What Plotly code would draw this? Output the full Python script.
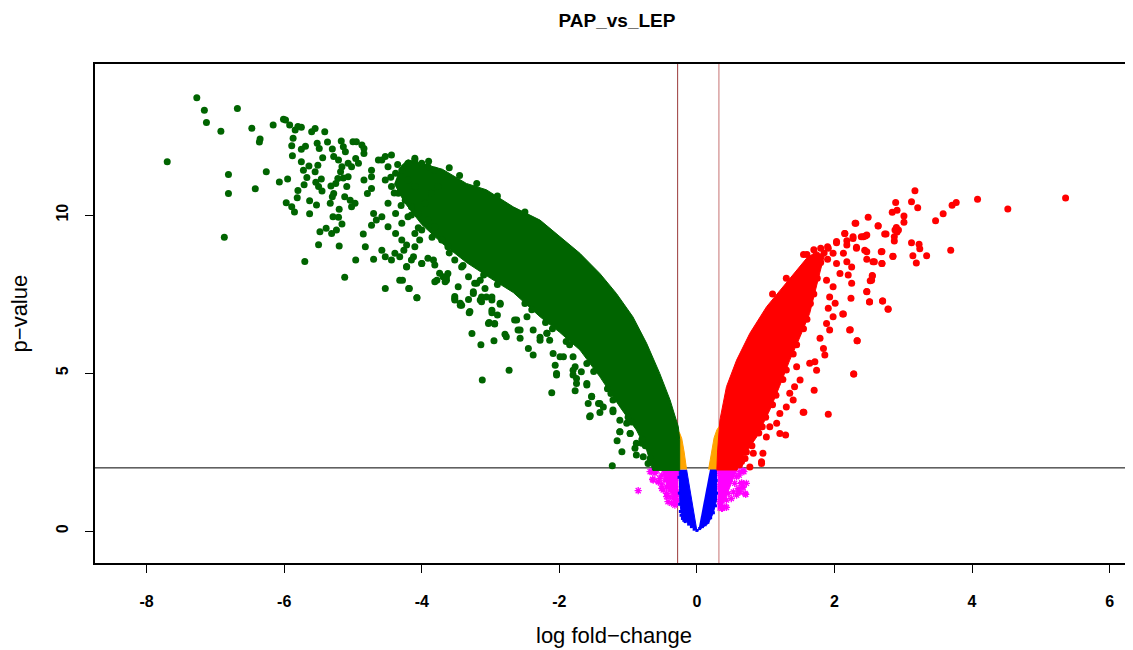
import plotly.graph_objects as go

# ---------------- data (log fold-change, p-value) ----------------
fc_low = -0.28
fc_high = 0.32
p_cut = 2.0

x_ticks = [-8, -6, -4, -2, 0, 2, 4, 6]
y_ticks = [0, 5, 10]

# dense core of down-regulated genes (outline of the solid cloud)
green_band_x = [-4.30, -4.20, -3.70, -3.35, -3.06, -2.67, -2.28, -1.99, -1.70, -1.41, -1.17, -0.93,
                -0.73, -0.54, -0.39, -0.27, -0.25, -0.25,
                -0.64, -0.73, -0.88, -1.12, -1.41, -1.70, -2.00, -2.28, -2.67, -3.00, -3.35,
                -3.70, -4.00, -4.25, -4.40]
green_band_y = [11.55, 11.75, 11.45, 11.00, 10.80, 10.26, 9.84, 9.31, 8.79, 8.15, 7.52, 6.78,
                5.94, 4.99, 4.15, 3.30, 2.90, 1.92,
                1.92, 2.56, 3.20, 3.93, 4.88, 5.73, 6.30, 6.78, 7.55, 8.00, 8.50,
                9.10, 9.70, 10.40, 11.00]

green_x = [-7.27, -7.16, -7.13, -6.68, -6.92, -7.70, -6.81, -6.81, -6.87, -6.47, -6.35, -6.36,
           -6.26, -6.42, -6.16, -6.07, -5.95, -6.01, -5.98, -5.92, -5.84, -5.80, -5.75, -5.87,
           -5.89, -5.75, -5.69, -5.88, -5.75, -5.72, -5.67, -5.71, -5.80, -5.81, -5.97, -5.89,
           -5.85, -5.63, -5.53, -5.63, -5.70, -5.50, -5.60, -5.55, -5.41, -5.52, -5.49, -5.37,
           -5.44, -5.30, -5.17, -5.14, -5.11, -5.28, -5.64, -5.51, -5.55, -5.46, -5.54, -5.50,
           -5.45, -5.32, -5.28, -5.30, -5.33, -5.21, -5.16, -5.18, -5.22, -5.25, -5.07, -5.02,
           -5.14, -5.07, -5.00, -4.95, -4.87, -4.84, -4.84, -4.96, -4.92, -5.20, -5.29, -5.21,
           -5.16, -5.24, -5.39, -5.48, -5.31, -5.09, -5.12, -5.04, -4.97, -5.02, -5.20, -4.96,
           -5.12, -4.85, -4.82, -4.73, -4.66, -4.70, -4.79, -4.73, -4.84, -4.73, -4.73, -4.63,
           -4.53, -4.44, -4.70, -4.58, -4.53, -4.44, -4.39, -4.32, -4.53, -4.19, -4.07, -4.28,
           -4.22, -4.15, -4.22, -4.10, -4.03, -4.00, -3.91, -3.81, -3.74, -3.64, -3.81, -3.52,
           -3.42, -3.32, -3.25, -3.13, -2.98,
           -4.58, -4.49, -4.38, -4.53, -4.44, -4.29, -4.20, -4.10, -4.00, -3.91, -3.81, -4.20,
           -4.10, -4.34, -4.24, -4.15, -4.49, -4.38, -4.29, -4.20, -4.05, -3.95, -3.86, -3.76,
           -3.91, -3.81, -4.00, -4.10, -4.49, -4.58, -4.38, -4.29, -3.71, -3.62, -3.52, -3.42,
           -3.32, -3.23, -3.62, -3.47,
           -3.66, -3.64, -3.52, -3.44, -3.31, -3.27, -3.14, -3.12, -2.95, -3.02, -2.94, -2.98,
           -2.90, -2.79, -2.73, -3.13, -3.08, -2.98, -2.86, -3.25, -3.20, -3.15, -2.65, -2.60,
           -2.57, -2.45, -2.38, -2.28, -2.18, -2.14, -2.06, -2.04, -2.11, -1.94, -1.80, -1.77,
           -1.68, -1.80, -1.75, -1.77, -1.60, -1.53, -1.58, -1.43, -1.36, -1.41, -1.55, -1.22,
           -1.12, -1.22, -1.12, -1.16, -1.09, -0.90, -0.88, -0.80, -1.23, -0.97, -1.02, -0.78,
           -0.71,
           -4.32, -4.18, -4.07, -4.26, -4.22, -4.12, -4.00, -3.83, -3.78, -3.69, -3.52, -3.44,
           -3.30, -3.15, -3.06, -2.98, -2.86, -3.03, -2.94, -2.77, -2.62, -2.47, -2.57, -2.38,
           -2.28, -2.18, -2.09, -1.99, -2.04, -1.80, -1.75, -1.60, -1.53, -1.41, -1.56, -1.22,
           -1.12, -0.97, -0.88,
           -2.50, -2.40, -2.20, -2.10, -1.90, -1.85, -1.60, -1.50, -1.30, -1.25, -1.00, -0.95,
           -0.80, -0.75, -0.68, -2.90, -3.10, -3.40, -3.60, -3.85, -4.05, -4.15, -4.30, -4.40,
           -4.45, -4.35, -4.10, -3.90, -3.60, -3.45, -3.20, -2.90, -2.50]
green_y = [13.71, 13.32, 12.93, 13.37, 12.65, 11.69, 11.28, 10.68, 9.30, 12.75, 12.41, 12.31,
           11.37, 10.83, 12.85, 11.05, 11.14, 13.03, 13.01, 12.85, 12.69, 12.80, 12.78, 12.43,
           12.19, 12.08, 12.18, 11.88, 11.69, 11.42, 11.19, 10.96, 10.78, 10.55, 10.39, 10.26,
           10.10, 10.45, 10.32, 10.04, 8.53, 9.06, 12.64, 12.74, 12.64, 12.27, 12.11, 12.31,
           11.81, 12.09, 12.34, 12.16, 12.00, 11.85, 11.55, 11.58, 11.37, 11.14, 11.04, 10.90,
           10.76, 10.92, 10.68, 10.58, 10.37, 11.74, 11.53, 11.37, 11.16, 11.00, 11.64, 11.53,
           11.17, 11.21, 12.32, 12.32, 12.22, 12.11, 11.95, 11.79, 11.64, 10.18, 9.95, 9.93,
           9.72, 9.53, 9.58, 9.47, 9.42, 10.90, 10.58, 10.47, 10.37, 10.26, 9.02, 8.58,
           8.03, 9.40, 9.00, 9.68, 9.84, 10.05, 10.68, 10.84, 11.11, 11.21, 11.42, 11.74,
           11.85, 11.90, 8.60, 8.89, 8.68, 8.58, 8.79, 8.68, 7.68, 7.68, 7.38, 7.94,
           8.37, 8.58, 9.05, 9.00, 9.21, 8.47, 8.63, 8.42, 8.16, 7.94, 7.89, 7.36,
           7.15, 7.33, 7.52, 7.26, 7.31,
           11.74, 11.53, 11.32, 11.11, 10.90, 11.42, 11.64, 11.74, 11.64, 11.53, 11.42, 11.11,
           10.90, 10.69, 10.47, 10.26, 10.37, 10.05, 9.74, 9.95, 10.05, 10.37, 10.69, 10.90,
           9.84, 9.63, 9.53, 9.42, 9.63, 9.95, 9.42, 9.21, 9.21, 9.00, 8.58, 8.36,
           8.05, 7.84, 8.15, 7.73,
           7.89, 8.05, 7.31, 7.15, 6.91, 6.25, 5.90, 4.78, 6.02, 6.60, 6.55, 6.91,
           6.84, 6.23, 5.09, 7.41, 7.68, 7.41, 7.18, 7.57, 7.84, 7.94, 6.68, 6.36,
           6.10, 5.78, 5.57, 6.13, 6.26, 6.04, 5.25, 4.94, 4.38, 5.52, 5.52, 5.20,
           5.04, 4.94, 4.83, 4.44, 4.62, 4.27, 4.04, 4.04, 3.93, 3.75, 3.65, 3.78,
           3.51, 4.15, 3.14, 2.86, 2.51, 2.62, 2.41, 2.78, 2.07, 3.09, 3.41, 2.35,
           2.14,
           7.94, 7.68, 7.38, 8.89, 8.36, 8.68, 8.47, 8.58, 7.94, 8.05, 7.42, 7.21,
           6.95, 7.31, 7.41, 6.99, 7.21, 6.57, 6.57, 6.15, 6.68, 6.78, 6.36, 6.36,
           6.04, 6.26, 5.62, 5.52, 4.99, 5.09, 4.67, 4.67, 4.25, 4.04, 3.62, 3.83,
           3.14, 3.09, 2.78,
           7.20, 7.00, 6.60, 6.40, 6.00, 5.90, 5.30, 5.05, 4.50, 4.35, 3.60, 3.45,
           2.90, 2.70, 2.30, 7.80, 8.10, 8.40, 8.80, 9.30, 9.60, 10.00, 10.30, 10.70,
           11.20, 11.60, 11.80, 11.70, 11.50, 11.25, 11.00, 10.60, 10.10]

# dense core of up-regulated genes
red_band_x = [0.29, 0.30, 0.334, 0.43, 0.577, 0.77, 1.013, 1.254, 1.45, 1.594, 1.74, 1.85,
              1.79, 1.74, 1.64, 1.50, 1.35, 1.20, 1.06, 0.87, 0.67, 0.58]
red_band_y = [1.92, 2.50, 3.51, 4.57, 5.41, 6.26, 7.10, 7.73, 8.26, 8.63, 8.85, 8.70,
              8.20, 7.73, 6.89, 6.15, 5.41, 4.57, 3.83, 2.98, 2.35, 1.92]

red_x = [2.30, 2.635, 2.88, 2.73, 2.93, 2.15, 2.27, 2.42, 2.47, 2.03, 2.18, 2.32, 2.13, 2.47,
         2.56, 2.68, 2.69, 2.85, 1.91, 1.98, 2.03, 2.18, 2.25, 2.08, 2.20, 2.25, 1.885, 1.98,
         1.93, 2.01, 1.91, 2.13, 1.98, 1.885, 1.93, 2.47, 2.51, 2.54, 2.55, 2.70, 2.78, 2.22,
         2.33, 1.79, 1.84, 1.86, 1.715, 1.64, 1.74, 2.28, 1.705, 1.545, 1.91, 1.45, 1.50, 1.42,
         1.35, 1.40, 1.30, 1.206, 1.16, 1.206, 1.29, 1.06, 1.01, 0.96, 0.94, 0.82,
         3.17, 2.89, 3.12, 3.21, 2.84, 2.91, 3.01, 3.01, 2.49, 2.31, 2.635, 2.90, 2.91, 2.87,
         2.87, 2.75, 3.47, 3.58, 3.71, 3.77, 4.08, 4.52, 5.36, 3.69, 3.12, 3.23, 3.24, 3.14,
         3.34, 3.19, 2.69, 2.85, 2.69, 2.58, 2.47, 2.44, 2.55, 2.52, 2.47, 2.51, 2.70, 2.78,
         2.24, 2.12, 2.23, 2.33, 2.28, 1.555, 2.39, 2.45, 2.27, 2.15, 2.32, 2.18, 2.03,
         1.60, 1.70, 1.80, 1.90, 1.85, 0.77, 0.94, 0.62, 0.70,
         1.80, 1.75, 1.70, 1.65, 1.60, 1.55, 1.45, 1.40, 1.30, 1.25, 1.15, 1.10, 1.00, 0.95,
         0.90, 0.80, 0.72, 0.65, 1.90, 1.55, 1.30, 1.10]
red_y = [9.74, 9.65, 9.53, 9.40, 9.53, 9.42, 9.31, 9.31, 9.37, 9.16, 9.05, 8.95, 8.79, 8.84,
         8.52, 8.84, 8.47, 8.70, 8.95, 8.79, 8.47, 8.52, 8.36, 8.15, 8.10, 7.84, 7.94, 7.73,
         7.41, 7.21, 7.05, 6.87, 6.78, 6.57, 6.36, 7.57, 7.26, 7.94, 8.07, 7.28, 7.02, 6.36,
         6.02, 6.10, 5.78, 5.57, 5.36, 5.31, 5.09, 4.97, 4.46, 3.76, 3.70, 5.20, 4.78, 4.57,
         4.36, 4.15, 3.93, 3.72, 3.41, 3.09, 3.04, 3.30, 2.98, 2.46, 2.14, 2.46,
         10.77, 10.40, 10.42, 10.23, 10.09, 10.15, 9.97, 9.77, 9.93, 9.74, 9.66, 9.61, 9.46, 9.31,
         9.18, 9.40, 9.82, 10.04, 10.31, 10.40, 10.50, 10.19, 10.54, 8.89, 9.12, 9.08, 8.93, 8.71,
         8.71, 8.48, 8.85, 8.69, 8.47, 8.52, 8.60, 8.89, 8.09, 7.92, 7.58, 7.25, 7.28, 7.03,
         7.37, 6.87, 6.37, 6.02, 4.97, 3.76, 9.31, 9.34, 9.26, 9.42, 8.98, 9.19, 9.12,
         8.75, 8.90, 8.95, 9.00, 8.80, 2.03, 2.19, 2.10, 2.30,
         8.50, 8.00, 7.50, 7.20, 6.70, 6.40, 5.90, 5.60, 5.10, 4.80, 4.30, 4.00, 3.60, 3.30,
         3.10, 2.70, 2.50, 2.20, 8.60, 8.75, 8.00, 7.50]

# small-change genes above the p-value cut (orange)
orange_left_x = [-0.28, -0.28, -0.25, -0.22, -0.185, -0.15]
orange_left_y = [1.95, 3.20, 3.10, 2.93, 2.50, 1.95]
orange_right_x = [0.17, 0.21, 0.25, 0.29, 0.32, 0.32]
orange_right_y = [1.95, 2.50, 2.95, 3.20, 3.30, 1.95]

# non-significant genes with small change (blue)
blue_left_x = [-0.257, -0.247, -0.22, -0.15, 0.0, -0.15]
blue_left_y = [1.95, 0.88, 0.45, 0.29, 0.01, 1.95]
blue_right_x = [0.19, 0.286, 0.286, 0.237, 0.165, 0.02]
blue_right_y = [1.95, 1.95, 0.98, 0.56, 0.24, 0.02]
blue_x = [-0.26, -0.255, -0.25, -0.24, -0.23, -0.21, -0.19, -0.17, -0.12, -0.08, -0.04, 0.0,
          0.04, 0.08, 0.12, 0.16, 0.20, 0.24, 0.27, 0.285, 0.28]
blue_y = [1.70, 1.20, 0.85, 0.62, 0.50, 0.40, 0.34, 0.30, 0.22, 0.14, 0.06, 0.02,
          0.08, 0.14, 0.20, 0.28, 0.42, 0.58, 0.80, 1.20, 1.60]

# non-significant genes with larger change (magenta stars)
magenta_left_x = [-0.27, -0.51, -0.44, -0.36, -0.30, -0.27]
magenta_left_y = [1.95, 1.95, 1.50, 1.10, 0.85, 0.85]
magenta_right_x = [0.30, 0.577, 0.50, 0.42, 0.36, 0.30]
magenta_right_y = [1.95, 1.95, 1.50, 1.10, 0.75, 0.65]
magenta_x = [-0.853, -0.659, -0.61, -0.644, -0.56, -0.51, -0.49, -0.44, -0.39, -0.42, -0.34,
             -0.32, -0.465, -0.39, -0.34, -0.295, -0.44, -0.51, -0.37, -0.32, -0.295, -0.285,
             -0.32, -0.39, -0.44, -0.285, -0.585, -0.54, -0.68, -0.61, -0.635, -0.56, -0.51,
             -0.44, -0.37, -0.32,
             0.334, 0.407, 0.48, 0.55, 0.625, 0.683, 0.577, 0.48, 0.55, 0.65, 0.72, 0.67, 0.60,
             0.53, 0.455, 0.38, 0.334, 0.407, 0.36, 0.43, 0.50, 0.577, 0.70, 0.625, 0.53, 0.43,
             0.334, 0.38, 0.67, 0.615, 0.65, 0.67, 0.61, 0.71, 0.43, 0.37]
magenta_y = [1.28, 1.88, 1.83, 1.64, 1.56, 1.46, 1.30, 1.19, 1.09, 0.93, 1.03,
             0.88, 1.61, 1.67, 1.77, 1.83, 1.83, 1.77, 1.46, 1.40, 1.24, 1.14,
             1.61, 1.30, 1.40, 0.98, 1.93, 1.67, 1.88, 1.91, 1.61, 1.56, 1.35,
             1.09, 0.88, 0.82,
             1.83, 1.88, 1.93, 1.98, 1.88, 1.88, 1.72, 1.67, 1.51, 1.51, 1.51, 1.40, 1.35,
             1.24, 1.19, 1.09, 0.93, 0.77, 0.72, 0.98, 1.03, 1.14, 1.19, 1.24, 1.83, 1.51,
             1.40, 1.61, 1.91, 1.77, 1.53, 1.38, 1.24, 1.16, 0.75, 0.72]

GREEN = "#006400"
RED = "#ff0000"
ORANGE = "#ffa500"
BLUE = "#0000ff"
MAGENTA = "#ff00ff"

fig = go.Figure()


def band(xs, ys, color):
    fig.add_trace(go.Scatter(x=xs, y=ys, mode="lines", fill="toself", fillcolor=color,
                             line=dict(color=color, width=1), hoverinfo="skip", showlegend=False))


band(magenta_left_x, magenta_left_y, MAGENTA)
band(magenta_right_x, magenta_right_y, MAGENTA)
fig.add_trace(go.Scatter(x=magenta_x, y=magenta_y, mode="markers", showlegend=False,
                         marker=dict(symbol="asterisk-open", size=6, color=MAGENTA,
                                     line=dict(color=MAGENTA, width=1.3))))
band(blue_left_x, blue_left_y, BLUE)
band(blue_right_x, blue_right_y, BLUE)
fig.add_trace(go.Scatter(x=blue_x, y=blue_y, mode="markers", showlegend=False,
                         marker=dict(symbol="square", size=3, color=BLUE, line=dict(width=0))))
band(orange_left_x, orange_left_y, ORANGE)
band(orange_right_x, orange_right_y, ORANGE)
band(green_band_x, green_band_y, GREEN)
fig.add_trace(go.Scatter(x=green_x, y=green_y, mode="markers", showlegend=False,
                         marker=dict(size=7, color=GREEN, line=dict(width=0))))
band(red_band_x, red_band_y, RED)
fig.add_trace(go.Scatter(x=red_x, y=red_y, mode="markers", showlegend=False,
                         marker=dict(size=7, color=RED, line=dict(width=0))))

# threshold lines
fig.add_shape(type="line", xref="x", yref="paper", x0=fc_low, x1=fc_low, y0=0, y1=1,
              line=dict(color="#9b3a3a", width=1), layer="below")
fig.add_shape(type="line", xref="x", yref="paper", x0=fc_high, x1=fc_high, y0=0, y1=1,
              line=dict(color="#d08a8a", width=1.2), layer="below")
fig.add_shape(type="line", xref="paper", yref="y", x0=0, x1=1, y0=p_cut, y1=p_cut,
              line=dict(color="black", width=1), layer="below")

FONT = "Liberation Sans, Arial, Helvetica, sans-serif"

# the page body has an 8px margin; margins compensate so the plot box sits where the reference has it
fig.update_layout(
    width=1133, height=650,
    margin=dict(l=87, r=8, t=56, b=95),
    paper_bgcolor="white", plot_bgcolor="white",
    font=dict(family=FONT, color="black"),
    title=dict(text="<b>PAP_vs_LEP</b>", x=0.5375, xanchor="center", y=0.9815, yanchor="middle",
               font=dict(size=19, family=FONT, color="black")),
    xaxis=dict(range=[-8.75, 6.34], tickvals=x_ticks, ticktext=[f"<b>{v}</b>" for v in x_ticks],
               showgrid=False, zeroline=False, showline=True, mirror=True, linecolor="black",
               linewidth=2, ticks="outside", ticklen=8, tickwidth=1, tickcolor="black",
               tickfont=dict(size=16, family=FONT), ticklabelstandoff=15),
    yaxis=dict(range=[-1.01, 14.78], tickvals=y_ticks, ticktext=[f"<b>{v}</b>" for v in y_ticks],
               showgrid=False, zeroline=False, showline=True, mirror=False, linecolor="black",
               linewidth=2, ticks="outside", ticklen=8, tickwidth=1, tickcolor="black",
               tickangle=-90, tickfont=dict(size=16, family=FONT), ticklabelstandoff=11),
    annotations=[
        dict(text="log fold\u2212change", xref="paper", yref="paper", x=0.5, y=-0.146,
             xanchor="center", yanchor="middle", showarrow=False,
             font=dict(size=22, family=FONT, color="black")),
        dict(text="p\u2212value", xref="paper", yref="paper", x=-0.0723, y=0.5,
             xanchor="center", yanchor="middle", textangle=-90, showarrow=False,
             font=dict(size=22, family=FONT, color="black")),
    ],
)

fig.write_html("out.html")
